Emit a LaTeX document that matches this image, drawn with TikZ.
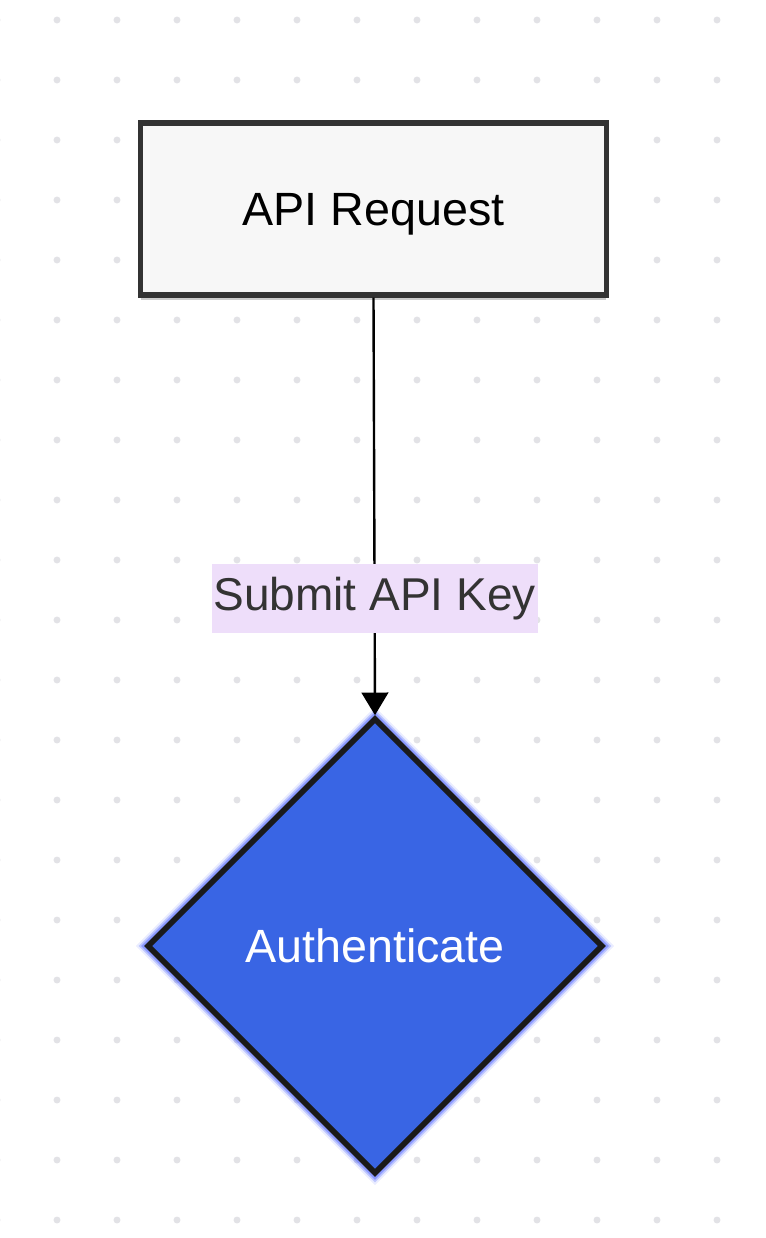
\documentclass[tikz,border=0pt]{standalone}
\usepackage{fontspec}
\setmainfont{Liberation Sans}
\usetikzlibrary{arrows.meta,shapes.geometric,shadows}
\definecolor{gridgray}{RGB}{226,226,230}
\definecolor{boxfill}{RGB}{247,247,247}
\definecolor{boxline}{RGB}{51,51,51}
\definecolor{labelbg}{RGB}{238,222,250}
\definecolor{labeltext}{RGB}{51,51,51}
\definecolor{authblue}{RGB}{57,101,228}
\definecolor{authline}{RGB}{26,26,26}
\definecolor{glowblue}{RGB}{90,110,255}
\tikzset{
  bigfont/.style={font=\fontsize{35}{42}\selectfont},
  reqbox/.style={draw=boxline, line width=3.8pt, fill=boxfill, inner sep=0pt,
    minimum width=349pt, minimum height=129pt, bigfont, text depth=0pt,
    drop shadow={shadow xshift=0pt, shadow yshift=-4pt, opacity=0.2, fill=black}},
  decision/.style={diamond, draw=authline, line width=4.2pt, fill=authblue, inner sep=0pt,
    minimum width=342pt, minimum height=342pt, text=white, bigfont,
    preaction={draw=glowblue, line width=13pt, opacity=0.12},
    preaction={draw=glowblue, line width=10pt, opacity=0.3},
    preaction={draw=glowblue, line width=7.5pt, opacity=0.5}},
  edgelabel/.style={fill=labelbg, text=labeltext, inner xsep=1.5pt, inner ysep=0pt,
    minimum height=51.5pt, font=\fontsize{34.5}{41}\selectfont},
}

\begin{document}
\begin{tikzpicture}[x=0.75pt, y=-0.75pt]
  \pgfmathsetmacro{\xmax}{766}
  \pgfmathsetmacro{\ymax}{1238}
  \useasboundingbox (0,0) rectangle (\xmax,\ymax);
  \fill[white] (0,0) rectangle (\xmax,\ymax);

  % dotted background
  \foreach \i in {0,...,13}{
    \foreach \j in {0,...,20}{
      \fill[gridgray] ({-3+60*\i},{20+60*\j}) circle (2.6pt);
    };
  };

  \node[reqbox] (request) at (373.5,209) {API Request};
  \node[decision] (auth) at (375,946) {Authenticate};

  \draw[line width=1.8pt, -{Triangle[length=17pt,width=20pt]}] (request.south) -- (auth.north)
    node[pos=0.72, edgelabel] (keylabel) {Submit API Key};
\end{tikzpicture}
\end{document}
